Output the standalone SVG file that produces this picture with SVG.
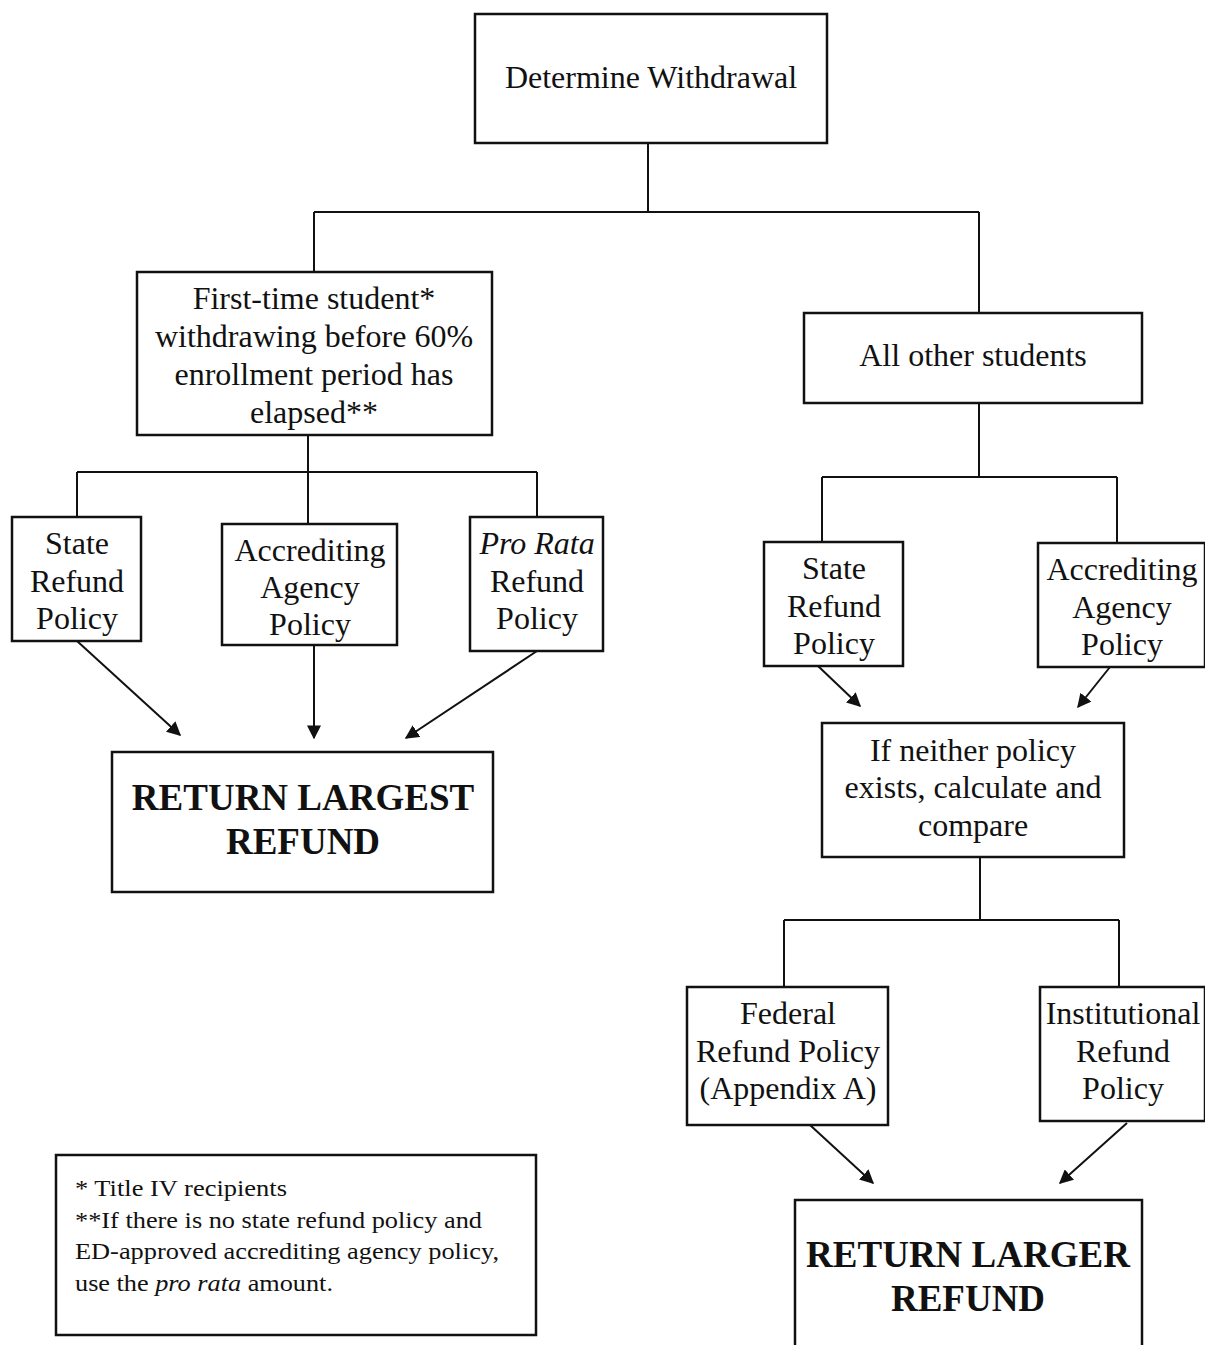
<svg xmlns="http://www.w3.org/2000/svg" width="1205" height="1345" viewBox="0 0 1205 1345">
<style>
.box{fill:#fff;stroke:#111;stroke-width:2.5}
.t{font-family:"Liberation Serif","Times New Roman",serif;font-size:32px;fill:#111;text-anchor:middle}
.b{font-family:"Liberation Serif","Times New Roman",serif;font-size:37px;font-weight:bold;fill:#111;text-anchor:middle}
.f{font-family:"Liberation Serif","Times New Roman",serif;font-size:23px;fill:#111}
.c{fill:none;stroke:#111;stroke-width:2}
</style>
<defs>
<marker id="ah" viewBox="0 0 10 10" refX="9" refY="5" markerWidth="14" markerHeight="14" markerUnits="userSpaceOnUse" orient="auto">
<path d="M0,0 L10,5 L0,10 z" fill="#111"/>
</marker>
</defs>
<rect width="1205" height="1345" fill="#fff"/>
<g id="connectors">
<path class="c" d="M648,143 V212 M314,212 H979 M314,212 V272 M979,212 V313"/>
<path class="c" d="M308,435 V472 M77,472 H537 M77,472 V517 M308,472 V524 M537,472 V517"/>
<path class="c" d="M979,403 V477 M822,477 H1117 M822,477 V542 M1117,477 V543"/>
<path class="c" d="M980,857 V920 M784,920 H1119 M784,920 V987 M1119,920 V987"/>
<line class="c" x1="77" y1="641" x2="180" y2="735" marker-end="url(#ah)"/>
<line class="c" x1="314" y1="645" x2="314" y2="738" marker-end="url(#ah)"/>
<line class="c" x1="537" y1="651" x2="406" y2="738" marker-end="url(#ah)"/>
<line class="c" x1="818" y1="666" x2="860" y2="706" marker-end="url(#ah)"/>
<line class="c" x1="1110" y1="667" x2="1078" y2="707" marker-end="url(#ah)"/>
<line class="c" x1="810" y1="1125" x2="873" y2="1183" marker-end="url(#ah)"/>
<line class="c" x1="1127" y1="1123" x2="1060" y2="1183" marker-end="url(#ah)"/>
</g>
<g id="determine">
<rect class="box" x="475" y="14" width="352" height="129"/>
<text class="t" x="651" y="88">Determine Withdrawal</text>
</g>
<g id="firsttime">
<rect class="box" x="137" y="272" width="355" height="163"/>
<text class="t" x="314" y="309">First-time student*</text>
<text class="t" x="314" y="347">withdrawing before 60%</text>
<text class="t" x="314" y="385">enrollment period has</text>
<text class="t" x="314" y="423">elapsed**</text>
</g>
<g id="allother">
<rect class="box" x="804" y="313" width="338" height="90"/>
<text class="t" x="973" y="366">All other students</text>
</g>
<g id="state-left">
<rect class="box" x="12" y="517" width="129" height="124"/>
<text class="t" x="77" y="554">State</text>
<text class="t" x="77" y="592">Refund</text>
<text class="t" x="77" y="629">Policy</text>
</g>
<g id="accred-left">
<rect class="box" x="222" y="524" width="175" height="121"/>
<text class="t" x="310" y="561">Accrediting</text>
<text class="t" x="310" y="598">Agency</text>
<text class="t" x="310" y="635">Policy</text>
</g>
<g id="prorata">
<rect class="box" x="470" y="517" width="133" height="134"/>
<text class="t" x="537" y="554" font-style="italic">Pro Rata</text>
<text class="t" x="537" y="592">Refund</text>
<text class="t" x="537" y="629">Policy</text>
</g>
<g id="largest">
<rect class="box" x="112" y="752" width="381" height="140"/>
<text class="b" x="303" y="810">RETURN LARGEST</text>
<text class="b" x="303" y="854">REFUND</text>
</g>
<g id="state-right">
<rect class="box" x="764" y="542" width="139" height="124"/>
<text class="t" x="834" y="579">State</text>
<text class="t" x="834" y="617">Refund</text>
<text class="t" x="834" y="654">Policy</text>
</g>
<g id="accred-right">
<rect class="box" x="1038" y="543" width="167" height="124"/>
<text class="t" x="1122" y="580">Accrediting</text>
<text class="t" x="1122" y="618">Agency</text>
<text class="t" x="1122" y="655">Policy</text>
</g>
<g id="neither">
<rect class="box" x="822" y="723" width="302" height="134"/>
<text class="t" x="973" y="761">If neither policy</text>
<text class="t" x="973" y="798">exists, calculate and</text>
<text class="t" x="973" y="836">compare</text>
</g>
<g id="federal">
<rect class="box" x="687" y="987" width="201" height="138"/>
<text class="t" x="788" y="1024">Federal</text>
<text class="t" x="788" y="1062">Refund Policy</text>
<text class="t" x="788" y="1099">(Appendix A)</text>
</g>
<g id="institutional">
<rect class="box" x="1040" y="987" width="165" height="134"/>
<text class="t" x="1123" y="1024">Institutional</text>
<text class="t" x="1123" y="1062">Refund</text>
<text class="t" x="1123" y="1099">Policy</text>
</g>
<g id="larger">
<rect class="box" x="795" y="1200" width="347" height="150"/>
<text class="b" x="968" y="1267">RETURN LARGER</text>
<text class="b" x="968" y="1311">REFUND</text>
</g>
<g id="footnote">
<rect class="box" x="56" y="1155" width="480" height="180"/>
<text class="f" x="75" y="1196" textLength="212" lengthAdjust="spacingAndGlyphs">* Title IV recipients</text>
<text class="f" x="75" y="1228" textLength="407" lengthAdjust="spacingAndGlyphs">**If there is no state refund policy and</text>
<text class="f" x="75" y="1259" textLength="424" lengthAdjust="spacingAndGlyphs">ED-approved accrediting agency policy,</text>
<text class="f" x="75" y="1291" textLength="258" lengthAdjust="spacingAndGlyphs">use the <tspan font-style="italic">pro rata</tspan> amount.</text>
</g>
</svg>
